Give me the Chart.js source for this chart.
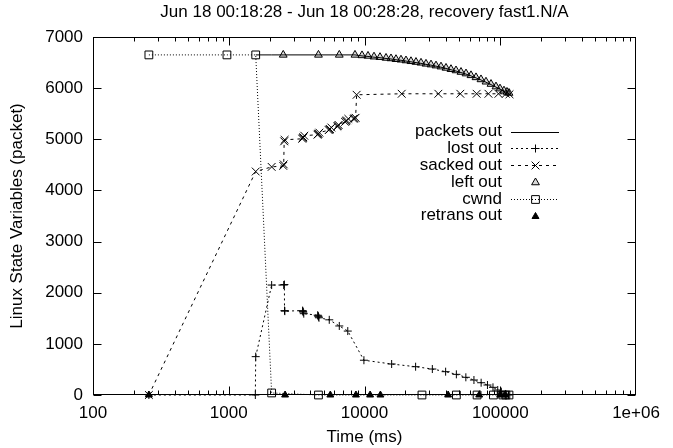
<!DOCTYPE html>
<html><head><meta charset="utf-8">
<script src="https://cdn.jsdelivr.net/npm/chart.js@4.4.1/dist/chart.umd.min.js"></script>
<style>html,body{margin:0;padding:0;background:#fff}canvas{display:block}</style>
</head><body>
<canvas id="c" width="673" height="448"></canvas>
<script>
const titleText = 'Jun 18 00:18:28 - Jun 18 00:28:28, recovery fast1.N/A';
const xAxisTitle = 'Time (ms)';
const yAxisTitle = 'Linux State Variables (packet)';
const xTickValues = [100, 1000, 10000, 100000, 1000000];
const xTickLabels = ['100', '1000', '10000', '100000', '1e+06'];
const yTickValues = [0, 1000, 2000, 3000, 4000, 5000, 6000, 7000];
const yTickLabels = ['0', '1000', '2000', '3000', '4000', '5000', '6000', '7000'];
const seriesNames = ['packets out', 'lost out', 'sacked out', 'left out', 'cwnd', 'retrans out'];

const packetsOutTime = [1580, 2070, 2520, 4580, 6520, 8510, 9585, 10612, 11749, 13010, 14405, 15675, 17060, 18570, 20215, 22000, 23950, 26080, 28380, 30900, 33630, 36600, 39850, 43370, 47210, 51390, 55940, 60880, 66280, 72140, 78520, 85480, 93040, 99580, 106560, 112100, 116000];
const packetsOutValue = [6650, 6650, 6650, 6650, 6650, 6650, 6630, 6620, 6605, 6595, 6580, 6570, 6555, 6545, 6530, 6515, 6500, 6485, 6465, 6450, 6430, 6410, 6385, 6360, 6335, 6305, 6275, 6240, 6200, 6160, 6115, 6070, 6020, 5980, 5940, 5915, 5895];

const lostOutTime = [258, 1570, 1580, 2070, 2540, 2570, 2575, 2590, 3500, 3520, 3540, 3570, 4520, 4560, 4580, 4620, 5500, 6520, 7530, 9900, 15850, 23800, 31600, 39600, 47500, 55800, 64000, 72300, 80500, 88400, 95800, 101800, 109000, 115000];
const lostOutValue = [0, 0, 750, 2150, 2150, 2160, 1650, 1640, 1650, 1635, 1620, 1590, 1560, 1545, 1530, 1510, 1470, 1350, 1250, 680, 606, 553, 508, 456, 404, 346, 293, 240, 195, 150, 98, 65, 20, 0];

const sackedOutTime = [258, 1580, 2070, 2520, 2540, 2560, 2580, 3480, 3510, 3540, 3600, 4500, 4540, 4580, 4650, 5450, 5510, 5570, 5700, 6300, 6380, 6450, 7200, 7300, 7400, 7600, 8300, 8450, 8600, 8750, 18800, 35000, 50800, 67000, 81900, 97000, 110000, 117000];
const sackedOutValue = [0, 4370, 4460, 4480, 4510, 4960, 4990, 5010, 5025, 5040, 5070, 5090, 5100, 5110, 5130, 5180, 5190, 5200, 5230, 5250, 5265, 5280, 5340, 5355, 5370, 5400, 5400, 5410, 5420, 5870, 5890, 5890, 5890, 5890, 5890, 5890, 5890, 5880];

const leftOutTime = [2520, 4580, 6520, 8510, 9585, 10612, 11749, 13010, 14405, 15675, 17060, 18570, 20215, 22000, 23950, 26080, 28380, 30900, 33630, 36600, 39850, 43370, 47210, 51390, 55940, 60880, 66280, 72140, 78520, 85480, 93040, 99580, 106560, 112100, 116000];
const leftOutValue = [6650, 6650, 6650, 6650, 6640, 6630, 6615, 6605, 6590, 6580, 6565, 6555, 6540, 6525, 6510, 6495, 6475, 6460, 6440, 6420, 6395, 6370, 6345, 6315, 6285, 6250, 6210, 6170, 6125, 6080, 6030, 5990, 5950, 5925, 5905];

const cwndTime = [258, 970, 1580, 2070, 4580, 26500, 47500, 67500, 89000, 104500, 110000, 116000];
const cwndValue = [6650, 6650, 6650, 40, 0, 0, 0, 0, 0, 0, 0, 0];

const retransOutTime = [258, 2600, 5600, 8650, 11000, 13100, 41300, 70000, 100000, 108500];
const retransOutValue = [0, 0, 0, 0, 0, 0, 0, 0, 0, 0];

const FONT_FAMILY = "'Liberation Sans', Arial, Helvetica, sans-serif";
const FONT = { family: FONT_FAMILY, size: 17, lineHeight: 1.2, weight: 'normal' };

function zip(t, v) { return t.map((x, i) => ({ x: x, y: v[i] })); }

const styles = [
  { dash: [], point: null, r: 0, fill: 'rgba(0,0,0,0)', line: true },
  { dash: [2, 3], point: 'cross', r: 4, fill: 'rgba(0,0,0,0)', line: true },
  { dash: [3, 4], point: 'crossRot', r: 5.5, fill: 'rgba(0,0,0,0)', line: true },
  { dash: [], point: 'triangle', r: 4.5, fill: 'rgba(0,0,0,0.15)', line: false },
  { dash: [1, 2], point: 'rect', r: 5.5, fill: 'rgba(0,0,0,0)', line: true },
  { dash: [], point: 'triangle', r: 4, fill: '#000', line: false }
];
const seriesData = [
  zip(packetsOutTime, packetsOutValue),
  zip(lostOutTime, lostOutValue),
  zip(sackedOutTime, sackedOutValue),
  zip(leftOutTime, leftOutValue),
  zip(cwndTime, cwndValue),
  zip(retransOutTime, retransOutValue)
];

const datasets = seriesNames.map((name, i) => ({
  label: name,
  data: seriesData[i],
  showLine: styles[i].line,
  borderColor: '#000',
  borderWidth: 1,
  borderDash: styles[i].dash,
  tension: 0,
  pointStyle: styles[i].point || 'circle',
  pointRadius: styles[i].r,
  pointHoverRadius: styles[i].r,
  pointBorderColor: '#000',
  pointBorderWidth: 1,
  pointBackgroundColor: styles[i].fill,
  backgroundColor: styles[i].fill,
  clip: false,
  order: 6 - i
}));

const framePlugin = {
  id: 'frame',
  beforeDatasetsDraw(chart) {
    const { ctx, chartArea: a, scales } = chart;
    const L = Math.floor(a.left) + 0.5, R = Math.round(a.right) - 0.5;
    const T = Math.floor(a.top) + 0.5, B = Math.round(a.bottom) - 0.5;
    ctx.save();
    ctx.strokeStyle = '#000';
    ctx.lineWidth = 1;
    ctx.setLineDash([]);
    ctx.beginPath();
    yTickValues.forEach(v => {
      const y = Math.round(scales.y.getPixelForValue(v)) + 0.5;
      ctx.moveTo(L, y); ctx.lineTo(L + 8, y);
      ctx.moveTo(R, y); ctx.lineTo(R - 8, y);
    });
    for (let d = 100; d < 1000000; d *= 10) {
      for (let m = 1; m <= 9; m++) {
        const v = d * m;
        const x = Math.round(scales.x.getPixelForValue(v)) + 0.5;
        const len = m === 1 ? 8 : 4;
        ctx.moveTo(x, B); ctx.lineTo(x, B - len);
        ctx.moveTo(x, T); ctx.lineTo(x, T + len);
      }
    }
    ctx.stroke();
    ctx.strokeRect(L, T, R - L, B - T);
    ctx.restore();
  }
};

function drawMarker(ctx, style, x, y, r, fill) {
  ctx.beginPath();
  if (style === 'cross') {
    ctx.moveTo(x - r, y); ctx.lineTo(x + r, y);
    ctx.moveTo(x, y - r); ctx.lineTo(x, y + r);
    ctx.stroke();
  } else if (style === 'crossRot') {
    const o = r * Math.SQRT1_2;
    ctx.moveTo(x - o, y - o); ctx.lineTo(x + o, y + o);
    ctx.moveTo(x + o, y - o); ctx.lineTo(x - o, y + o);
    ctx.stroke();
  } else if (style === 'triangle') {
    ctx.moveTo(x, y - r);
    ctx.lineTo(x + Math.sin(2 * Math.PI / 3) * r, y + r / 2);
    ctx.lineTo(x - Math.sin(2 * Math.PI / 3) * r, y + r / 2);
    ctx.closePath();
    ctx.fillStyle = fill; ctx.fill(); ctx.stroke();
  } else if (style === 'rect') {
    const s = r * Math.SQRT1_2;
    ctx.rect(x - s, y - s, 2 * s, 2 * s);
    ctx.fillStyle = fill; ctx.fill(); ctx.stroke();
  }
}

const keyPlugin = {
  id: 'key',
  afterDatasetsDraw(chart) {
    const { ctx } = chart;
    const textRight = 502, lineL = 511, lineR = 559, mid = 535;
    const y0 = 131.5, dy = 16.85;
    ctx.save();
    ctx.font = '17px ' + FONT_FAMILY;
    ctx.textAlign = 'right';
    ctx.textBaseline = 'middle';
    ctx.strokeStyle = '#000';
    ctx.lineWidth = 1;
    seriesNames.forEach((name, i) => {
      const y = y0 + i * dy;
      ctx.fillStyle = '#000';
      ctx.fillText(name, textRight, y);
      const st = styles[i];
      const yl = Math.round(y) + 0.5;
      if (st.line) {
        ctx.setLineDash(st.dash);
        ctx.beginPath(); ctx.moveTo(lineL, yl); ctx.lineTo(lineR, yl); ctx.stroke();
        ctx.setLineDash([]);
      }
      if (st.point) drawMarker(ctx, st.point, mid + 0.5, yl, st.r, st.fill);
    });
    ctx.restore();
  }
};

new Chart(document.getElementById('c'), {
  type: 'scatter',
  data: { datasets: datasets },
  options: {
    responsive: false,
    animation: false,
    devicePixelRatio: 1,
    layout: { padding: { left: 0, right: 37, top: 0, bottom: 0 } },
    plugins: {
      legend: { display: false },
      tooltip: { enabled: false },
      title: {
        display: true,
        text: titleText,
        fullSize: false,
        color: '#000',
        font: FONT,
        padding: { top: 2, bottom: 14.6 }
      }
    },
    scales: {
      x: {
        type: 'logarithmic',
        min: 100,
        max: 1000000,
        grid: { display: false, drawTicks: false },
        border: { display: false },
        afterBuildTicks: s => { s.ticks = xTickValues.map(v => ({ value: v })); },
        afterFit: s => { s.height = 53; },
        ticks: {
          autoSkip: false,
          maxRotation: 0,
          padding: 8,
          color: '#000',
          font: FONT,
          callback: v => { const k = xTickValues.indexOf(v); return k >= 0 ? xTickLabels[k] : ''; }
        },
        title: { display: true, text: xAxisTitle, color: '#000', font: FONT, padding: { top: 0, bottom: 0.4 } }
      },
      y: {
        min: 0,
        max: 7000,
        grid: { display: false, drawTicks: false },
        border: { display: false },
        afterBuildTicks: s => { s.ticks = yTickValues.map(v => ({ value: v })); },
        afterFit: s => { s.width = 93; },
        ticks: {
          padding: 10,
          color: '#000',
          font: FONT,
          callback: v => { const k = yTickValues.indexOf(v); return k >= 0 ? yTickLabels[k] : ''; }
        },
        title: { display: true, text: yAxisTitle, color: '#000', font: FONT, padding: { top: 7, bottom: 0 } }
      }
    }
  },
  plugins: [framePlugin, keyPlugin]
});
</script>
</body></html>
